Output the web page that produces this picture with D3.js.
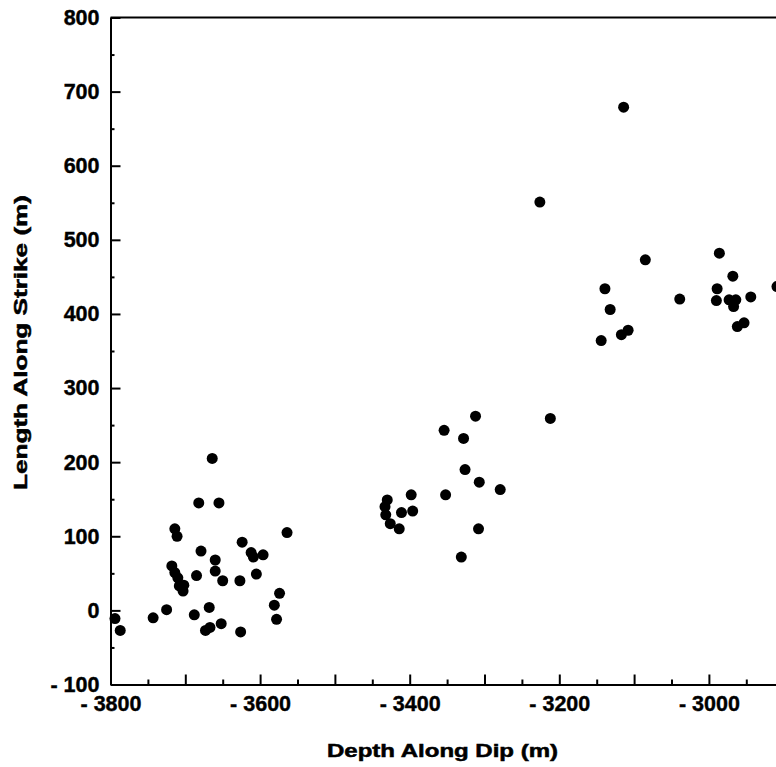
<!DOCTYPE html>
<html>
<head>
<meta charset="utf-8">
<script src="https://cdn.jsdelivr.net/npm/d3@7/dist/d3.min.js"></script>
<style>
  html, body { margin: 0; padding: 0; background: #fff; }
  svg { display: block; }
  text { font-family: "Liberation Sans", Arial, Helvetica, sans-serif; font-weight: bold; fill: #000; }
</style>
</head>
<body>
<svg id="chart" width="776" height="767"></svg>
<script>
// ---- data ----
const depthAlongDip = [
  -3794, -3787, -3743, -3725, -3714, -3711, -3718, -3714, -3710, -3708, -3702, -3703,
  -3682, -3679, -3685, -3688, -3664, -3655, -3660, -3660, -3650, -3668, -3673, -3667,
  -3652, -3624, -3627, -3626, -3612, -3609, -3596, -3605, -3564, -3574, -3581, -3578,
  -3312, -3354, -3328, -3212, -3326, -3307, -3279, -3352, -3398, -3430, -3433, -3432,
  -3426, -3414, -3411, -3396, -3308, -3331,
  -3114, -3226, -3085, -3139, -3132, -3144, -3117, -3108, -3039, -2986, -2968, -2989,
  -2990, -2973, -2964, -2967, -2944, -2962, -2953, -2909
];
const lengthAlongStrike = [
  -11, -27, -10, 1, 110, 100, 60, 51, 44, 33, 34, 26,
  145, 80, 47, -6, 205, 145, 68, 53, 40, 4, -27, -23,
  -18, 92, 40, -29, 78, 72, 75, 49, 105, 23, 7, -12,
  262, 243, 232, 259, 190, 173, 163, 156, 156, 149, 140, 129,
  117, 110, 132, 134, 110, 72,
  679, 551, 473, 434, 406, 364, 372, 378, 420, 482, 451, 434,
  418, 419, 419, 410, 423, 383, 388, 437
];
const xMajorTicks = [-3800, -3700, -3600, -3500, -3400, -3300, -3200, -3100, -3000, -2900];
const xTickLabels = {"-3800": "- 3800", "-3600": "- 3600", "-3400": "- 3400", "-3200": "- 3200", "-3000": "- 3000"};
const xMinorTicks = [-3750, -3650, -3550, -3450, -3350, -3250, -3150, -3050, -2950];
const yMajorTicks = [-100, 0, 100, 200, 300, 400, 500, 600, 700, 800];
const yTickLabels = ["- 100", "0", "100", "200", "300", "400", "500", "600", "700", "800"];
const yMinorTicks = [-50, 50, 150, 250, 350, 450, 550, 650, 750];
const xTitle = "Depth Along Dip (m)";
const yTitle = "Length Along Strike (m)";

// ---- layout ----
const svg = d3.select("#chart");
const plotLeft = 110.5, plotTop = 17.5, plotBottom = 684.5;
const x = d3.scaleLinear().domain([-3800, -2900]).range([plotLeft, plotLeft + 900 * 0.748]);
const y = d3.scaleLinear().domain([-100, 800]).range([plotBottom, plotTop]);

// frame top line
svg.append("line")
  .attr("x1", x(-3800)).attr("x2", 776)
  .attr("y1", y(800)).attr("y2", y(800))
  .attr("stroke", "#000").attr("stroke-width", 2);

// x axis
const xAxis = d3.axisBottom(x).tickValues(xMajorTicks)
  .tickFormat(d => xTickLabels[String(d)] || "")
  .tickSize(-10).tickSizeOuter(0).tickPadding(11);
const gx = svg.append("g").attr("transform", `translate(0,${plotBottom})`).call(xAxis);
gx.attr("font-family", null).attr("font-size", null);
gx.select(".domain").attr("stroke-width", 2);
gx.selectAll(".tick line").attr("stroke-width", 2);
gx.selectAll("text").attr("font-size", 21.5).attr("stroke", "#000").attr("stroke-width", 0.4);

const xAxisMinor = d3.axisBottom(x).tickValues(xMinorTicks).tickFormat("").tickSize(-5).tickSizeOuter(0);
const gxm = svg.append("g").attr("transform", `translate(0,${plotBottom})`).call(xAxisMinor);
gxm.select(".domain").remove();
gxm.selectAll(".tick line").attr("stroke-width", 2);

// y axis
const yAxis = d3.axisLeft(y).tickValues(yMajorTicks)
  .tickFormat((d, i) => yTickLabels[i])
  .tickSize(-10).tickSizeOuter(0).tickPadding(11);
const gy = svg.append("g").attr("transform", `translate(${plotLeft},0)`).call(yAxis);
gy.attr("font-family", null).attr("font-size", null);
gy.select(".domain").attr("stroke-width", 2);
gy.selectAll(".tick line").attr("stroke-width", 2);
gy.selectAll("text").attr("font-size", 21.5).attr("stroke", "#000").attr("stroke-width", 0.4);

const yAxisMinor = d3.axisLeft(y).tickValues(yMinorTicks).tickFormat("").tickSize(-4).tickSizeOuter(0);
const gym = svg.append("g").attr("transform", `translate(${plotLeft},0)`).call(yAxisMinor);
gym.select(".domain").remove();
gym.selectAll(".tick line").attr("stroke-width", 2);

// points
const pts = depthAlongDip.map((d, i) => ({x: d, y: lengthAlongStrike[i]}));
svg.append("g").selectAll("circle").data(pts).join("circle")
  .attr("cx", d => x(d.x)).attr("cy", d => y(d.y)).attr("r", 5.5).attr("fill", "#000");

// titles
svg.append("text")
  .attr("x", 442.5).attr("y", 757)
  .attr("text-anchor", "middle").attr("font-size", 17.5)
  .attr("stroke", "#000").attr("stroke-width", 0.5)
  .attr("textLength", 231).attr("lengthAdjust", "spacingAndGlyphs")
  .text(xTitle);

svg.append("text")
  .attr("transform", `translate(27,342.5) rotate(-90)`)
  .attr("text-anchor", "middle").attr("font-size", 18)
  .attr("stroke", "#000").attr("stroke-width", 0.5)
  .attr("textLength", 295).attr("lengthAdjust", "spacingAndGlyphs")
  .text(yTitle);
</script>
</body>
</html>
